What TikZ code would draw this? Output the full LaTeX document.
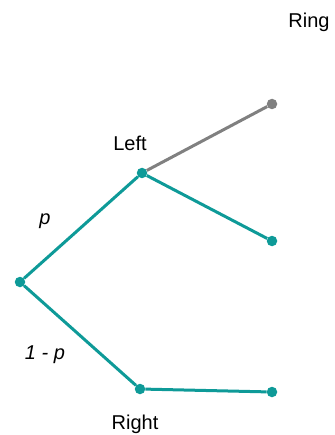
\documentclass[tikz,border=0pt]{standalone}
\usepackage{fontspec}
\setmainfont{Liberation Sans}
\usepackage{xcolor}
\usepackage{tikz}
\usetikzlibrary{positioning}
\definecolor{teal}{HTML}{0E9A98}
\definecolor{grey}{HTML}{808080}
\tikzset{
  leaf/.style={circle,fill=teal,inner sep=0pt,minimum size=10.5pt},
  leafgrey/.style={circle,fill=grey,inner sep=0pt,minimum size=10.5pt},
  branch/.style={line width=3pt,draw=teal},
  branchgrey/.style={line width=3pt,draw=grey},
  lbl/.style={font=\fontsize{20}{24}\selectfont,inner sep=0pt}
}
\begin{document}
\begin{tikzpicture}[x=1pt,y=-1pt]
\useasboundingbox (0,0) rectangle (334,435);
\node[leaf] (root) at (20,282) {};
\node[leaf] (left) at (142,173) {};
\node[leaf] (right) at (140,389) {};
\node[leafgrey] (ring) at (272,104) {};
\node[leaf] (ll) at (272,241) {};
\node[leaf] (rr) at (272,392) {};
\node[lbl] (ringlbl) at (309,22) {Ring};
\node[lbl] (leftlbl) at (130,143) {Left};
\node[lbl] (rightlbl) at (135,424) {Right};
\node[lbl] (plbl) at (45,221) {\itshape p};
\node[lbl] (qlbl) at (45,355) {\itshape 1 - p};
\draw[branchgrey] (left) -- (ring);
\draw[branch] (root) -- (left); \draw[branch] (root) -- (right);
\draw[branch] (left) -- (ll); \draw[branch] (right) -- (rr);
\end{tikzpicture}
\end{document}
